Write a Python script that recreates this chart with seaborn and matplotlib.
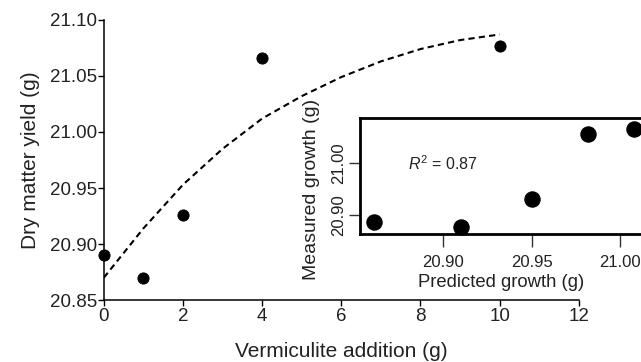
import matplotlib
matplotlib.use("Agg")
import matplotlib.pyplot as plt
import seaborn as sns

# measured yields
vermiculite = [0, 1, 2, 4, 10]
dry_yield = [20.890, 20.870, 20.926, 21.066, 21.077]

# fitted curve
curve_x = [0, 1, 2, 3, 4, 5, 6, 7, 8, 9, 10]
curve_y = [20.870, 20.914, 20.953, 20.985, 21.012, 21.032, 21.049, 21.063, 21.074, 21.082, 21.087]

# inset: predicted vs measured
predicted = [20.861, 20.910, 20.950, 20.982, 21.008]
measured = [20.887, 20.877, 20.931, 21.056, 21.066]

sns.set_style("ticks")
plt.rcParams['font.family'] = ['Liberation Sans', 'DejaVu Sans']
plt.rcParams['mathtext.fontset'] = 'custom'
plt.rcParams['mathtext.rm'] = 'Liberation Sans'
plt.rcParams['mathtext.it'] = 'Liberation Sans:italic'

fig = plt.figure(figsize=(6.41, 3.62), dpi=100)
ax = fig.add_axes([0.162, 0.171, 0.741, 0.774])

sns.lineplot(x=curve_x, y=curve_y, ax=ax, color='black', linewidth=1.5,
             linestyle=(0, (3, 2)))
sns.scatterplot(x=vermiculite, y=dry_yield, ax=ax, color='black', s=65,
                edgecolor='black', clip_on=False, zorder=5)

ax.set_xlim(0, 12)
ax.set_ylim(20.85, 21.10)
ax.set_xticks([0, 2, 4, 6, 8, 10, 12])
ax.set_yticks([20.85, 20.90, 20.95, 21.00, 21.05, 21.10])
ax.set_yticklabels([f"{v:.2f}" for v in [20.85, 20.90, 20.95, 21.00, 21.05, 21.10]])
sns.despine(ax=ax)
ax.tick_params(labelsize=13.5, length=4, width=1, color='black', labelcolor='#222222', pad=1)
ax.tick_params(axis='x', pad=2)
for s in ['left', 'bottom']:
    ax.spines[s].set_linewidth(1.1)
    ax.spines[s].set_color('black')
ax.set_xlabel("Vermiculite addition (g)", fontsize=15, color='#222222', labelpad=12)
ax.set_ylabel("Dry matter yield (g)", fontsize=15, color='#222222', labelpad=7)

# inset
ins = fig.add_axes([0.5616, 0.3536, 0.44, 0.3204])
sns.scatterplot(x=predicted, y=measured, ax=ins, color='black', s=120,
                edgecolor='black', clip_on=False, zorder=5)
ins.set_xlim(20.853, 21.0125)
ins.set_ylim(20.8635, 21.0865)
ins.set_xticks([20.90, 20.95, 21.00])
ins.set_xticklabels(["20.90", "20.95", "21.00"])
ins.set_yticks([20.90, 21.00])
ins.set_yticklabels(["20.90", "21.00"], rotation=90, va='center')
for s in ins.spines.values():
    s.set_linewidth(2)
    s.set_color('black')
ins.tick_params(labelsize=12, length=8, width=1, color='#333333', labelcolor='#222222', pad=2)
ins.tick_params(axis='x', length=9, pad=6)
ins.set_xlabel("Predicted growth (g)", fontsize=13.3, color='#222222', labelpad=3)
ins.set_ylabel("Measured growth (g)", fontsize=14, color='#222222')
ins.yaxis.set_label_coords(-0.142, 0.38)
ins.text(0.17, 0.61, r"$R^2$ = 0.87", transform=ins.transAxes, fontsize=11.5,
         color='#222222', va='center')

fig.savefig("out.png", dpi=100)
